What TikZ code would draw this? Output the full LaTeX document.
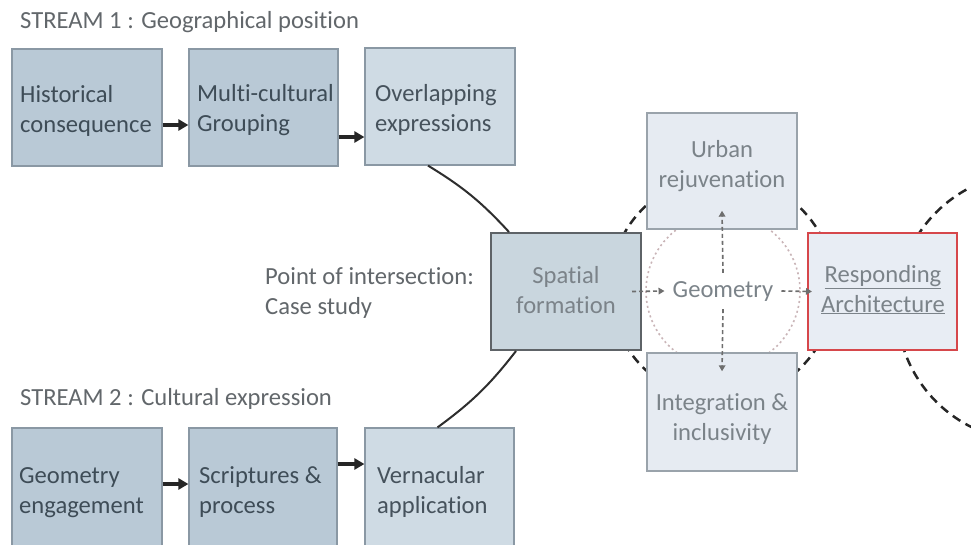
\documentclass[tikz,border=0pt]{standalone}
\usepackage{fontspec}
\setmainfont{Carlito}[Ligatures=NoCommon]
\usetikzlibrary{arrows.meta,calc}
\definecolor{fillA}{HTML}{B9C9D6}
\definecolor{fillB}{HTML}{CFDBE4}
\definecolor{fillS}{HTML}{C9D6DE}
\definecolor{fillL}{HTML}{E6EBF2}
\definecolor{fillR}{HTML}{E8EDF4}
\definecolor{edgeA}{HTML}{8A98A4}
\definecolor{edgeS}{HTML}{5E6367}
\definecolor{edgeL}{HTML}{9AA3AB}
\definecolor{edgeR}{HTML}{D6474B}
\definecolor{txtDark}{HTML}{3E4C57}
\definecolor{txtMid}{HTML}{46525C}
\definecolor{txtGray}{HTML}{7B8389}
\definecolor{txtTitle}{HTML}{62676B}
\definecolor{dotC}{HTML}{C9B4B7}
\definecolor{curveC}{HTML}{2E2E2E}
\definecolor{darrC}{HTML}{6E6E6E}
\begin{document}
\begin{tikzpicture}[x=1pt,y=-1pt,
  every node/.style={font=\fontsize{24.6}{29.5}\selectfont, inner sep=0pt},
  boxa/.style={draw=edgeA, line width=1.2pt, fill=fillA, minimum width=150pt, minimum height=117pt},
  boxb/.style={draw=edgeA, line width=1.2pt, fill=fillB, minimum width=150pt, minimum height=117pt},
  boxs/.style={draw=edgeS, line width=2pt, fill=fillS, minimum width=150pt, minimum height=117pt},
  boxl/.style={draw=edgeL, line width=1.4pt, fill=fillL, minimum width=150pt, minimum height=117pt},
  boxr/.style={draw=edgeR, line width=2pt, fill=fillR, minimum width=149pt, minimum height=117pt},
  ltxt/.style={anchor=base west, align=left},
  ctxt/.style={anchor=base, align=center, text=txtGray},
  title/.style={anchor=base west, text=txtTitle},
  barr/.style={line width=3.5pt, draw=black!85, -{Triangle[length=10pt,width=11pt]}},
  darr/.style={line width=1.6pt, draw=darrC, dash pattern=on 4pt off 3pt, -{Triangle[length=6pt,width=6.5pt]}},
  curve/.style={line width=2pt, draw=curveC},
  bigdash/.style={line width=2.5pt, draw=black!85, dash pattern=on 9pt off 6pt}
]
\useasboundingbox (0,0) rectangle (971,544);
\fill[white] (0,0) rectangle (971,544);

% background circles
\draw[bigdash] (722,288) circle[radius=112];
\draw[bigdash] (1031,307) circle[radius=134];
\draw[dotC, line width=1.6pt, dash pattern=on 2pt off 3pt] (723,291) circle[radius=77];

% titles (base anchor of a two-line node is its last line)
\node[title] (s1) at (20,28) {STREAM 1 : Geographical position};
\node[title] (s2) at (20,405) {STREAM 2 : Cultural expression};
\node[ltxt, text=txtTitle] (poi) at (265,314) {Point of intersection:\\Case study};

% stream 1 boxes
\node[boxa] (hist) at (87,107.5) {};
\node[boxa, minimum width=149pt] (multi) at (263.5,107.5) {};
\node[boxb] (overl) at (440,106.5) {};
\node[ltxt, text=txtDark] (histT) at (20,132) {Historical\\consequence};
\node[ltxt, text=txtDark] (multiT) at (197,131) {Multi-cultural\\Grouping};
\node[ltxt, text=txtMid] (overlT) at (375,131) {Overlapping\\expressions};

% stream 2 boxes
\node[boxa, minimum height=130pt] (geoe) at (87,493) {};
\node[boxa, minimum width=148pt, minimum height=130pt] (scri) at (263,493) {};
\node[boxb, minimum width=149pt, minimum height=130pt] (vern) at (439.5,493) {};
\node[ltxt, text=txtDark] (geoeT) at (19,513) {Geometry\\engagement};
\node[ltxt, text=txtDark] (scriT) at (199,513) {Scriptures \&\\process};
\node[ltxt, text=txtMid] (vernT) at (377,513) {Vernacular\\application};

% central boxes
\node[boxs] (spat) at (566,291.5) {};
\node[boxl, minimum height=116pt] (urban) at (722,171) {};
\node[boxl, minimum height=118pt] (integ) at (722,412) {};
\node[boxr] (resp) at (882.5,291.5) {};
\node[ctxt] (spatT) at (566,313) {Spatial\\formation};
\node[ctxt] (urbanT) at (722,187) {Urban\\rejuvenation};
\node[ctxt] (integT) at (722,440) {Integration \&\\inclusivity};
\node[ctxt] (respT) at (883,312) {\underline{Responding}\\\underline{Architecture}};
\node[ctxt, inner sep=8pt] (geom) at (723,297) {Geometry};

% black arrows
\draw[barr] ([yshift=-17.5pt]hist.east) -- ([yshift=-17.5pt]hist.east -| multi.west);
\draw[barr] ([yshift=-29.5pt]multi.east) -- ([yshift=-29.5pt]multi.east -| overl.west);
\draw[barr] ([yshift=9pt]geoe.east) -- ([yshift=9pt]geoe.east -| scri.west);
\draw[barr] ([yshift=29pt]scri.east) -- ([yshift=29pt]scri.east -| vern.west);

% curves to spatial formation
\draw[curve] ([xshift=-12pt]overl.south) to[bend left=8] ([xshift=19pt]spat.north west);
\draw[curve] ([xshift=-2pt]vern.north) to[bend right=8] ([xshift=26pt]spat.south west);

% dashed arrows
\draw[darr] ([xshift=-10pt]spat.east) -- (geom.west);
\draw[darr] (geom.east) -- ([xshift=5pt]resp.west);
\draw[darr] (geom.north) -- ([yshift=19pt]urban.south);
\draw[darr] (geom.south) -- ([yshift=-19pt]integ.north);
\end{tikzpicture}
\end{document}
